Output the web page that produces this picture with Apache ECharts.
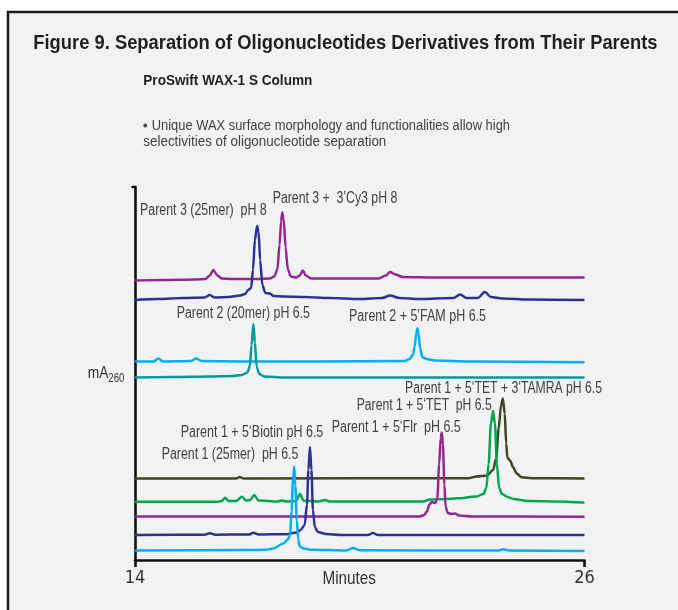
<!DOCTYPE html>
<html><head><meta charset="utf-8">
<script src="https://cdn.jsdelivr.net/npm/echarts@6/dist/echarts.min.js"></script>
<style>html,body{margin:0;padding:0;background:#fff}#c{width:678px;height:610px}</style>
</head><body><div id="c"></div>
<script>
// ---- data (minutes, signal above trace baseline, mA260 units) ----
const xTickValues = [14, 26];
const seriesNames = [
  "Parent 3 + 3'Cy3 pH 8", "Parent 3 (25mer) pH 8", "Parent 2 + 5'FAM pH 6.5", "Parent 2 (20mer) pH 6.5",
  "Parent 1 + 5'TET + 3'TAMRA pH 6.5", "Parent 1 + 5'TET pH 6.5", "Parent 1 + 5'Flr pH 6.5",
  "Parent 1 + 5'Biotin pH 6.5", "Parent 1 (25mer) pH 6.5"
];
const seriesColors = ['#93278f', '#2e3192', '#00aeef', '#009a9c', '#3e4520', '#00a650', '#93278f', '#2e3192', '#00aeef'];
const baselineOffsets = [280.5, 260, 198, 182.5, 81.5, 58, 43.5, 25, 9.5];

const p3Cy3 = [[14.0,-1],[14.8,-0.5],[15.6,0],[15.88,0.5],[16.0,4],[16.09,9.5],[16.2,4],[16.32,1],[16.6,0.5],[17.2,0.5],[17.6,1],[17.72,3],[17.8,10],[17.86,35],[17.9,58],[17.93,67],[17.97,60],[18.02,32],[18.08,10],[18.16,3],[18.3,2],[18.4,4],[18.48,9],[18.56,4],[18.7,1],[19.5,1],[20.5,1],[20.7,4],[20.81,7.5],[20.95,5],[21.15,2.5],[22,2],[24,2],[26,2]];
const p3 = [[14.0,0],[14.6,1],[15.3,2],[15.85,2.5],[16.0,5],[16.12,2.5],[16.5,3],[16.8,4.5],[16.94,6],[17.02,10],[17.1,12],[17.15,30],[17.2,60],[17.26,74],[17.3,68],[17.34,40],[17.4,15],[17.48,7],[17.6,6.5],[17.7,4],[18.0,3.5],[18.5,3],[19.2,2],[20.0,1],[20.6,2],[20.81,4.5],[21.05,2],[21.6,1],[22.5,2],[22.68,5.5],[22.85,2],[23.15,2],[23.34,8],[23.5,3],[23.8,1.5],[24.5,0.5],[26,0]];
const p2FAM = [[14.0,0.5],[14.5,0.5],[14.62,3.5],[14.75,0.5],[15.5,1],[15.63,3.5],[15.78,1],[17,0.5],[19,0.5],[21.2,1],[21.33,3],[21.42,7],[21.47,16],[21.51,29],[21.54,33.7],[21.57,28],[21.61,14],[21.67,5],[21.78,3],[22,1.5],[23,0.5],[26,-0.3]];
const p2 = [[14,0],[15,0.5],[16,1],[16.6,1.5],[16.85,2.5],[17.0,5],[17.07,12],[17.11,32],[17.16,53.5],[17.2,35],[17.25,10],[17.32,3.5],[17.45,1],[18,0],[26,0]];
const p1TetTamra = [[14,0],[16.7,0],[16.8,1.5],[16.9,0],[22.9,0.3],[23.12,2],[23.4,3],[23.56,8.5],[23.64,20],[23.71,50],[23.77,73],[23.82,80],[23.87,65],[23.91,35],[23.94,21],[24.01,18],[24.1,11],[24.19,5],[24.32,1.2],[24.6,0.3],[26,0]];
const p1Tet = [[14,0.3],[16.2,0.3],[16.32,1],[16.4,4.3],[16.5,1],[16.7,1],[16.85,5.3],[16.97,1.5],[17.08,2],[17.18,7],[17.3,1.5],[17.8,0.5],[17.92,1.5],[18.05,0.5],[18.3,1],[18.4,8],[18.5,1.5],[18.9,0.5],[19.07,2],[19.2,0.5],[21.7,0.5],[21.87,2.5],[22.3,3],[22.6,3.7],[23.12,5.5],[23.3,8],[23.38,14],[23.44,38],[23.5,78],[23.56,91],[23.61,78],[23.66,38],[23.72,14],[23.8,8],[23.95,5],[24.1,3],[24.5,1],[26,-0.5]];
const p1Flr = [[14,0],[21.6,0],[21.72,1.5],[21.79,4.8],[21.86,12],[21.92,14.5],[22.02,13.5],[22.07,18],[22.12,52],[22.16,78],[22.19,84],[22.22,72],[22.26,32],[22.29,10],[22.35,3.5],[22.45,2.5],[22.54,3],[22.65,1],[23,0],[26,-0.3]];
const p1Biotin = [[14,0],[15.85,0.3],[16.0,1.7],[16.15,0.3],[17.05,0.5],[17.16,2.3],[17.3,0.5],[18.05,0.8],[18.2,2],[18.32,2.5],[18.42,5],[18.53,10],[18.59,30],[18.63,65],[18.67,88],[18.71,65],[18.75,25],[18.8,8],[18.88,3],[19.1,1],[19.5,0],[20.22,0],[20.35,2],[20.48,0],[26,0]];
const p1 = [[14,0],[17,0.5],[17.5,0.7],[17.69,2],[17.96,7],[18.08,11],[18.14,15],[18.18,40],[18.22,72],[18.25,84],[18.28,65],[18.32,30],[18.36,10],[18.4,4],[18.5,2],[18.7,0.8],[19.65,0],[19.82,2.5],[20.0,0.2],[23.7,0],[23.83,1.2],[24,0],[26,-0.5]];
const traces = [p3Cy3, p3, p2FAM, p2, p1TetTamra, p1Tet, p1Flr, p1Biotin, p1];

const annotationTexts = [
  'Parent 3 (25mer)  pH 8', 'Parent 3 +  3\u2019Cy3 pH 8', 'Parent 2 (20mer) pH 6.5', 'Parent 2 + 5\u2019FAM pH 6.5',
  'Parent 1 + 5\u2018TET + 3\u2018TAMRA pH 6.5', 'Parent 1 + 5\u2018TET  pH 6.5', 'Parent 1 + 5\u2018Flr  pH 6.5',
  'Parent 1 + 5\u2018Biotin pH 6.5', 'Parent 1 (25mer)  pH 6.5'
];
const titleText = 'Figure 9. Separation of Oligonucleotides Derivatives from Their Parents';
const subtitleText = 'ProSwift WAX-1 S Column';
const bulletLines = ['Unique WAX surface morphology and functionalities allow high', 'selectivities of oligonucleotide separation'];
const xAxisName = 'Minutes';

// ---- layout / styling ----
const FF = "'Liberation Sans', Arial, sans-serif";
// [left x, right x, centre y] for each annotation
const labelBox = [[140,266.7,211],[272.7,397.3,199],[176.7,310,314],[349,486,316.5],[405,602,388.5],[356.7,491.7,406],[331.7,460.7,427.7],[180.7,323.3,432.7],[161.7,298.3,454.3]];

const mctx = document.createElement('canvas').getContext('2d');
function stxt(text, x1, x2, y, font, fill) {
  mctx.font = font;
  const w = mctx.measureText(text).width;
  return { type: 'text', x: x1, y: y, z: 50, scaleX: (x2 - x1) / w, scaleY: 1,
    style: { text: text, font: font, fill: fill, verticalAlign: 'middle', align: 'left' } };
}

const series = traces.map((tr, i) => ({
  name: seriesNames[i], type: 'line', showSymbol: false, smooth: 0.3, smoothMonotone: 'x',
  data: tr.map(p => [p[0], p[1] + baselineOffsets[i]]),
  lineStyle: { color: seriesColors[i], width: 2.5 }, itemStyle: { color: seriesColors[i] },
  z: 3 + i, silent: true
}));

const graphic = [
  { type: 'rect', z: -10, shape: { x: 8, y: 12, width: 720, height: 700 }, style: { fill: '#f1f2f4', stroke: '#1a1a1a', lineWidth: 2.5 } },
  stxt(titleText, 33.3, 657.5, 43, "bold 21px " + FF, '#231f20'),
  stxt(subtitleText, 143.3, 312.3, 81, "bold 15px " + FF, '#231f20'),
  { type: 'circle', z: 50, shape: { cx: 145.2, cy: 125.5, r: 1.9 }, style: { fill: '#414042' } },
  stxt(bulletLines[0], 151.7, 510, 126, "14px " + FF, '#414042'),
  stxt(bulletLines[1], 143.3, 386.3, 142, "14px " + FF, '#414042'),
  stxt(xAxisName, 322.5, 376, 579, "19px " + FF, '#333333'),
  stxt('mA', 87.7, 108.3, 373, "17px " + FF, '#333333'),
  stxt('260', 108.3, 124.3, 379, "12px " + FF, '#333333'),
  { type: 'line', z: 50, shape: { x1: 131.5, y1: 187, x2: 136, y2: 187 }, style: { stroke: '#111', lineWidth: 2.5 } }
].concat(annotationTexts.map((t, i) => stxt(t, labelBox[i][0], labelBox[i][1], labelBox[i][2], "16px " + FF, '#414042')));

const chart = echarts.init(document.getElementById('c'), null, { renderer: 'canvas' });
chart.setOption({
  backgroundColor: '#ffffff',
  animation: false,
  grid: { left: 135, right: 93.5, top: 187, bottom: 50, outerBoundsMode: 'none' },
  xAxis: {
    type: 'value', min: 14, max: 26,
    axisLine: { show: true, onZero: false, lineStyle: { color: '#111', width: 2.6 } },
    axisTick: { show: true, customValues: xTickValues, length: 7, lineStyle: { color: '#111', width: 2.6 } },
    axisLabel: { customValues: xTickValues, fontSize: 18, fontFamily: "'DejaVu Sans Condensed', sans-serif", color: '#333', margin: 9 },
    splitLine: { show: false }
  },
  yAxis: {
    type: 'value', min: 0, max: 373,
    axisLine: { show: true, onZero: false, lineStyle: { color: '#111', width: 2.6 } },
    axisTick: { show: false }, axisLabel: { show: false }, splitLine: { show: false }
  },
  series: series,
  graphic: graphic
});
</script></body></html>
